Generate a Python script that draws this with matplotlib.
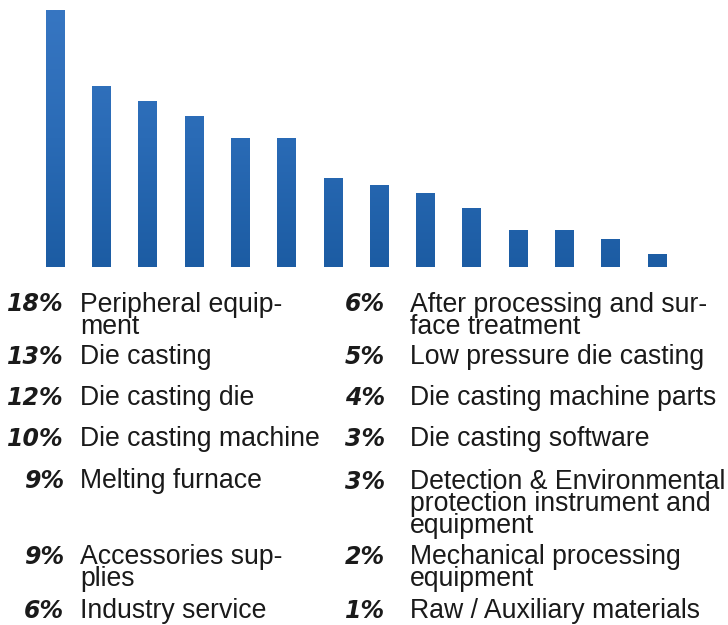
import numpy as np
import matplotlib
matplotlib.use("Agg")
import matplotlib.pyplot as plt
from matplotlib.colors import LinearSegmentedColormap

# Bar heights (in %)
bar_values = [18.0, 12.7, 11.6, 10.6, 9.0, 9.0, 6.2, 5.75, 5.15, 4.1, 2.55, 2.55, 1.95, 0.9]

left_pcts = ["18%", "13%", "12%", "10%", "9%", "9%", "6%"]
left_labels = [
    "Peripheral equip-\nment",
    "Die casting",
    "Die casting die",
    "Die casting machine",
    "Melting furnace",
    "Accessories sup-\nplies",
    "Industry service",
]
right_pcts = ["6%", "5%", "4%", "3%", "3%", "2%", "1%"]
right_labels = [
    "After processing and sur-\nface treatment",
    "Low pressure die casting",
    "Die casting machine parts",
    "Die casting software",
    "Detection & Environmental\nprotection instrument and\nequipment",
    "Mechanical processing\nequipment",
    "Raw / Auxiliary materials",
]

W, H = 728, 625
fig = plt.figure(figsize=(W / 100, H / 100), dpi=100)

ax = fig.add_axes([31.85 / W, 1 - 266.7 / H, (680 - 31.85) / W, (266.7 - 10) / H])
ax.set_xlim(-0.5, len(bar_values) - 0.5)
ax.set_ylim(0, 18)
ax.axis("off")

cmap = LinearSegmentedColormap.from_list("bl", ["#1c5ca3", "#2a6bb6", "#3776c2"])
grad = np.linspace(0, 1, 256).reshape(-1, 1)
bars = ax.bar(range(len(bar_values)), bar_values, width=0.4, color="none", edgecolor="none")
for b in bars:
    x0, w, h = b.get_x(), b.get_width(), b.get_height()
    im = ax.imshow(grad, cmap=cmap, origin="lower", aspect="auto",
                   extent=[x0, x0 + w, 0, 18], zorder=2)
    im.set_clip_path(b)

pct_font = dict(family="DejaVu Sans", style="oblique", weight="bold", size=17, color="#1a1a1a")
lab_font = dict(family="Liberation Sans", size=19.2, color="#1a1a1a", linespacing=0.8)
LINE_GAP = 22

def px(x, y):
    return x / W, 1 - y / H

left_base = [311.5, 364, 405, 446.5, 488, 564.5, 618]
right_base = [311.5, 364, 405, 446.5, 489, 564.5, 618]

def put(xp, xl, pct, lab, yb):
    fig.text(*px(xp, yb), pct, ha="right", va="baseline", **pct_font)
    n = lab.count("\n")
    fig.text(*px(xl, yb + n * LINE_GAP), lab, ha="left", va="baseline", **lab_font)

for pct, lab, yb in zip(left_pcts, left_labels, left_base):
    put(64, 80, pct, lab, yb)
for pct, lab, yb in zip(right_pcts, right_labels, right_base):
    put(385, 410, pct, lab, yb)

fig.savefig("out.png", dpi=100, facecolor="white")
